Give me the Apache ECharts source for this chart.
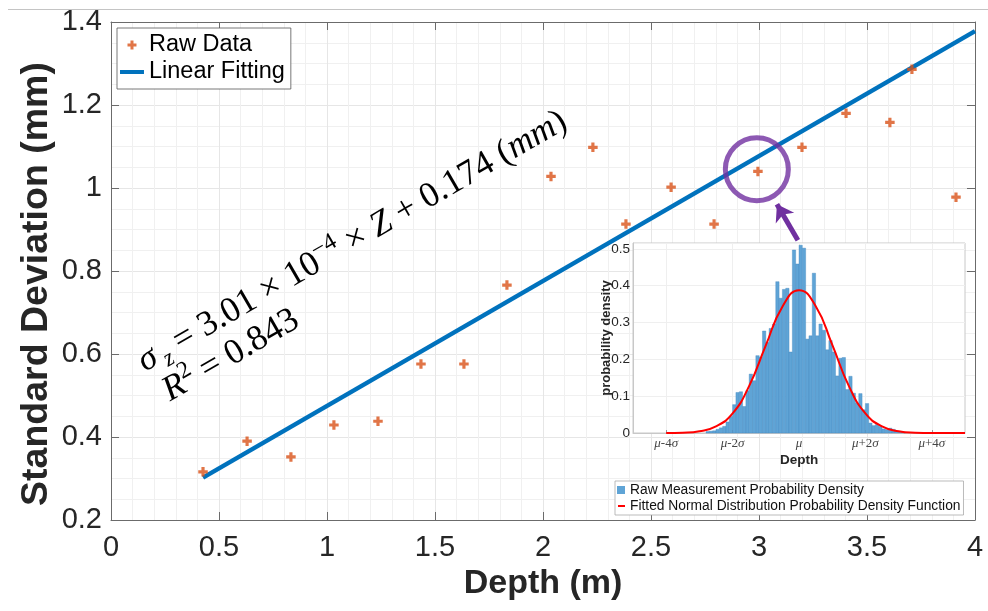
<!DOCTYPE html>
<html>
<head>
<meta charset="utf-8">
<script src="https://cdn.jsdelivr.net/npm/echarts@6/dist/echarts.min.js"></script>
<style>html,body{margin:0;padding:0;background:#fff}#c{width:988px;height:611px}</style>
</head>
<body>
<div id="c"></div>
<script>
// ---- main plot data ----
const depth  = [0.426, 0.630, 0.833, 1.032, 1.236, 1.435, 1.634, 1.833, 2.037, 2.231, 2.384, 2.593, 2.792, 2.995, 3.199, 3.403, 3.606, 3.708, 3.912];
const stdDev = [0.316, 0.390, 0.352, 0.429, 0.438, 0.576, 0.576, 0.766, 1.028, 1.098, 0.913, 1.002, 0.913, 1.040, 1.098, 1.180, 1.158, 1.286, 0.978];
const fitDepth = [0.426, 4.0];
const fitStd   = [0.302, 1.378];
const mainXTickLabels = ['0', '0.5', '1', '1.5', '2', '2.5', '3', '3.5', '4'];
const mainYTickLabels = ['0.2', '0.4', '0.6', '0.8', '1', '1.2', '1.4'];
const highlightPoint = [2.99, 1.045];
const arrowFrom = [3.18, 0.874];
const arrowTo   = [3.083, 0.961];
const eqAnchor  = [0.085, 0.622];

// ---- inset data (x in units of sigma) ----
const binStart = [-2.8,-2.7,-2.6,-2.5,-2.4,-2.3,-2.2,-2.1,-2.0,-1.9,-1.8,-1.7,-1.6,-1.5,-1.4,-1.3,-1.2,-1.1,-1.0,-0.9,-0.8,-0.7,-0.6,-0.5,-0.4,-0.3,-0.2,-0.1,0.0,0.1,0.2,0.3,0.4,0.5,0.6,0.7,0.8,0.9,1.0,1.1,1.2,1.3,1.4,1.5,1.6,1.7,1.8,1.9,2.0,2.1,2.2,2.3,2.4,2.5,2.6,2.7,2.8,2.9,3.0,3.1];
const binWidth = 0.1;
const density  = [0.004,0.005,0.006,0.010,0.014,0.018,0.030,0.045,0.077,0.110,0.112,0.072,0.115,0.160,0.142,0.210,0.206,0.277,0.246,0.284,0.296,0.411,0.366,0.390,0.393,0.220,0.497,0.459,0.510,0.502,0.255,0.264,0.434,0.264,0.296,0.279,0.226,0.251,0.220,0.155,0.203,0.205,0.118,0.154,0.108,0.081,0.107,0.063,0.080,0.027,0.020,0.023,0.018,0.011,0.009,0.013,0.010,0.005,0.004,0.003];
const pdfX = [-4,-3.5,-3,-2.5,-2,-1.5,-1,-0.5,0,0.5,1,1.5,2,2.5,3,3.5,4,4.5,5];
const pdfY = [0.000,0.001,0.005,0.018,0.053,0.128,0.238,0.343,0.388,0.345,0.240,0.128,0.053,0.018,0.005,0.001,0.000,0.000,0.000];
const insetXTickPos = [-4, -2, 0, 2, 4];
const insetXTickLabels = ['μ-4σ', 'μ-2σ', 'μ', 'μ+2σ', 'μ+4σ'];
const insetYTickLabels = ['0', '0.1', '0.2', '0.3', '0.4', '0.5'];

const SANS = 'Liberation Sans';
const SERIF = 'Liberation Serif';
const AX = '#6b6b6b';
const TXT = '#262626';
const PURPLE = '#7030A0';
const plusIcon = 'path://M0,0h0.01v0.01zM24,10h0.01v0.01zM10.5,0.5H13.5V3.5H16.5V6.5H13.5V9.5H10.5V6.5H7.5V3.5H10.5Z';
const lineIcon = 'path://M0,0h0.01v0.01zM24,10h0.01v0.01zM0,3H24V7H0Z';
const thinLineIcon = 'path://M0,0h0.01v0.01zM8,8h0.01v0.01zM1,3.1H8V4.9H1Z';
const plusSymbol = 'path://M3,0H6V3H9V6H6V9H3V6H0V3H3Z';

const chart = echarts.init(document.getElementById('c'), null, {renderer: 'canvas'});

function lbl(arr) { return function (v, i) { return arr[i] !== undefined ? arr[i] : ''; }; }

const option = {
  animation: false,
  backgroundColor: '#fff',
  grid: [
    {left: 111, right: 13, top: 22, bottom: 91, show: false, containLabel: false, outerBoundsMode: 'none'},
    {left: 633, right: 23, top: 243, bottom: 178, show: true, backgroundColor: '#fff', borderColor: '#c8c8c8', borderWidth: 1, z: 2, containLabel: false, outerBoundsMode: 'none'}
  ],
  legend: [
    {
      orient: 'vertical', left: 117, top: 28,
      data: [{name: 'Raw Data', icon: plusIcon}, {name: 'Linear Fitting', icon: lineIcon}],
      itemWidth: 24, itemHeight: 10, itemGap: 3,
      padding: [5, 6, 5, 3],
      textStyle: {fontFamily: SANS, fontSize: 23.5, color: '#000'},
      backgroundColor: '#fff', borderColor: '#555', borderWidth: 0.8, borderRadius: 0,
      selectedMode: false, z: 6
    },
    {
      orient: 'vertical', left: 615, top: 481,
      data: [{name: 'Raw Measurement Probability Density', icon: 'rect'}, {name: 'Fitted Normal Distribution Probability Density Function', icon: thinLineIcon}],
      itemWidth: 8, itemHeight: 8, itemGap: 2,
      padding: [2, 3, 2, 2],
      textStyle: {fontFamily: SANS, fontSize: 13.8, color: '#111'},
      backgroundColor: '#fff', borderColor: '#aaa', borderWidth: 0.8, borderRadius: 0,
      selectedMode: false, z: 6
    }
  ],
  xAxis: [
    {
      type: 'value', gridIndex: 0, min: 0, max: 4, interval: 0.5, position: 'bottom',
      name: 'Depth (m)', nameLocation: 'middle', nameGap: 47, nameMoveOverlap: false,
      nameTextStyle: {fontFamily: SANS, fontSize: 34, fontWeight: 'bold', color: TXT},
      axisLine: {show: true, onZero: false, lineStyle: {color: AX, width: 1}},
      axisTick: {show: true, inside: true, length: 8, lineStyle: {color: AX}},
      axisLabel: {fontFamily: SANS, fontSize: 29, color: TXT, margin: 13, formatter: lbl(mainXTickLabels)},
      splitLine: {show: true, lineStyle: {color: '#e6e6e6', width: 1}},
      minorTick: {show: false, splitNumber: 5},
      minorSplitLine: {show: true, lineStyle: {color: '#f0f0f0', width: 1}},
      z: 0
    },
    {
      type: 'value', gridIndex: 0, min: 0, max: 4, interval: 0.5, position: 'top',
      axisLine: {show: true, onZero: false, lineStyle: {color: AX, width: 1}},
      axisTick: {show: true, inside: true, length: 8, lineStyle: {color: AX}},
      axisLabel: {show: false}, splitLine: {show: false}, z: 1
    },
    {
      type: 'value', gridIndex: 1, min: -5, max: 5, interval: 1, position: 'bottom',
      name: 'Depth', nameLocation: 'middle', nameGap: 20, nameMoveOverlap: false,
      nameTextStyle: {fontFamily: SANS, fontSize: 13.5, fontWeight: 'bold', color: TXT},
      axisLine: {show: true, onZero: false, lineStyle: {color: '#c8c8c8', width: 1}},
      axisTick: {show: true, inside: true, length: 3, lineStyle: {color: '#999'}, customValues: insetXTickPos},
      axisLabel: {
        fontFamily: SERIF, fontSize: 13, color: '#444', margin: 4, customValues: insetXTickPos,
        formatter: function (v) {
          const i = insetXTickPos.indexOf(Math.round(v));
          if (i < 0) return '';
          return insetXTickLabels[i].replace(/μ/g, '{g|μ}').replace(/σ/g, '{g|σ}');
        },
        rich: {g: {fontFamily: SERIF, fontStyle: 'italic', fontSize: 13, color: '#444'}}
      },
      splitLine: {show: true, lineStyle: {color: '#efefef', width: 1}},
      z: 3
    }
  ],
  yAxis: [
    {
      type: 'value', gridIndex: 0, min: 0.2, max: 1.4, interval: 0.2, position: 'left',
      name: 'Standard Deviation (mm)', nameLocation: 'middle', nameGap: 55, nameMoveOverlap: false,
      nameTextStyle: {fontFamily: SANS, fontSize: 37.5, fontWeight: 'bold', color: TXT, padding: [0, 26, 0, 0]},
      axisLine: {show: true, onZero: false, lineStyle: {color: AX, width: 1}},
      axisTick: {show: true, inside: true, length: 8, lineStyle: {color: AX}},
      axisLabel: {fontFamily: SANS, fontSize: 29, color: TXT, margin: 9, formatter: lbl(mainYTickLabels)},
      splitLine: {show: true, lineStyle: {color: '#e6e6e6', width: 1}},
      minorTick: {show: false, splitNumber: 4},
      minorSplitLine: {show: true, lineStyle: {color: '#f0f0f0', width: 1}},
      z: 0
    },
    {
      type: 'value', gridIndex: 0, min: 0.2, max: 1.4, interval: 0.2, position: 'right',
      axisLine: {show: true, onZero: false, lineStyle: {color: AX, width: 1}},
      axisTick: {show: true, inside: true, length: 8, lineStyle: {color: AX}},
      axisLabel: {show: false}, splitLine: {show: false}, z: 1
    },
    {
      type: 'value', gridIndex: 1, min: 0, max: 0.516, interval: 0.1, position: 'left',
      name: 'probability density', nameLocation: 'middle', nameGap: 20, nameMoveOverlap: false,
      nameTextStyle: {fontFamily: SANS, fontSize: 13, fontWeight: 'bold', color: TXT},
      axisLine: {show: true, onZero: false, lineStyle: {color: '#c8c8c8', width: 1}},
      axisTick: {show: false},
      axisLabel: {fontFamily: SANS, fontSize: 13.5, color: TXT, margin: 3, formatter: lbl(insetYTickLabels)},
      splitLine: {show: true, lineStyle: {color: '#efefef', width: 1}},
      z: 3
    }
  ],
  series: [
    {
      name: 'Linear Fitting', type: 'line', xAxisIndex: 0, yAxisIndex: 0,
      data: fitDepth.map((x, i) => [x, fitStd[i]]),
      symbol: 'none', lineStyle: {color: '#0072BD', width: 4.5}, itemStyle: {color: '#0072BD'},
      z: 3, silent: true
    },
    {
      name: 'Raw Data', type: 'scatter', xAxisIndex: 0, yAxisIndex: 0,
      data: depth.map((x, i) => [x, stdDev[i]]),
      symbol: plusSymbol, symbolSize: 9.5, itemStyle: {color: '#D95319'},
      z: 4, silent: true
    },
    {
      name: 'highlight', type: 'scatter', xAxisIndex: 0, yAxisIndex: 0,
      data: [highlightPoint], symbol: 'circle', symbolSize: 63,
      itemStyle: {color: 'rgba(0,0,0,0)', borderColor: PURPLE, borderWidth: 5},
      z: 5, silent: true
    },
    {
      name: 'arrow', type: 'lines', coordinateSystem: 'cartesian2d', xAxisIndex: 0, yAxisIndex: 0,
      data: [{coords: [arrowFrom, arrowTo]}],
      symbol: ['none', 'arrow'], symbolSize: 16,
      lineStyle: {color: PURPLE, width: 5, opacity: 1, curveness: 0},
      z: 10, silent: true
    },
    {
      name: 'Raw Measurement Probability Density', type: 'custom', xAxisIndex: 2, yAxisIndex: 2,
      data: binStart.map((b, i) => [b, b + binWidth, density[i]]),
      encode: {x: [0, 1], y: 2},
      itemStyle: {color: '#5fa4d6'},
      renderItem: function (params, api) {
        const p0 = api.coord([api.value(0), api.value(2)]);
        const p1 = api.coord([api.value(1), 0]);
        return {
          type: 'rect',
          shape: {x: p0[0], y: p0[1], width: p1[0] - p0[0], height: p1[1] - p0[1]},
          style: {fill: '#5fa4d6', stroke: '#4589c0', lineWidth: 0.4}
        };
      },
      z: 4, silent: true
    },
    {
      name: 'Fitted Normal Distribution Probability Density Function', type: 'line', xAxisIndex: 2, yAxisIndex: 2,
      data: pdfX.map((x, i) => [x, pdfY[i]]),
      smooth: 0.5, symbol: 'none', lineStyle: {color: '#ff0000', width: 2}, itemStyle: {color: '#ff0000'},
      z: 6, silent: true
    }
  ]
};

chart.setOption(option);

const eqPix = chart.convertToPixel({gridIndex: 0}, eqAnchor);
const F = 35.5;
const eqRich = {
  n:   {fontFamily: SERIF, fontStyle: 'normal', fontSize: F, lineHeight: 34, fill: '#000', color: '#000'},
  s:   {fontFamily: SERIF, fontStyle: 'italic', fontSize: F, lineHeight: 44, fill: '#000', color: '#000'},
  sup: {fontFamily: SERIF, fontStyle: 'normal', fontSize: 24, lineHeight: 24, verticalAlign: 'top', fill: '#000', color: '#000'},
  sub: {fontFamily: SERIF, fontStyle: 'italic', fontSize: 24, lineHeight: 27, verticalAlign: 'bottom', padding: [0, 0, 0, 5], fill: '#000', color: '#000'}
};
function eqText(str, x, y) {
  return {
    type: 'text', x: x, y: y, silent: true,
    style: {text: str, rich: eqRich, fill: '#000', align: 'left', verticalAlign: 'top', textAlign: 'left', textVerticalAlign: 'top'}
  };
}
chart.setOption({
  graphic: [
    {
      type: 'line', shape: {x1: 8, y1: 9.5, x2: 988, y2: 9.5},
      style: {stroke: '#c4c4c4', lineWidth: 1}, z: 1, silent: true
    },
    {
      type: 'group', x: eqPix[0], y: eqPix[1], rotation: Math.PI / 6, z: 20, silent: true,
      children: [
        eqText('{s|σ}{sub|z}{n| = 3.01 × 10}{sup|−4}{n| × }{s|Z}{n| + 0.174 (}{s|mm}{n|)}', 0, 0),
        eqText('{s|R}{sup|2}{n| = 0.843}', 7, 38)
      ]
    }
  ]
});
</script>
</body>
</html>
